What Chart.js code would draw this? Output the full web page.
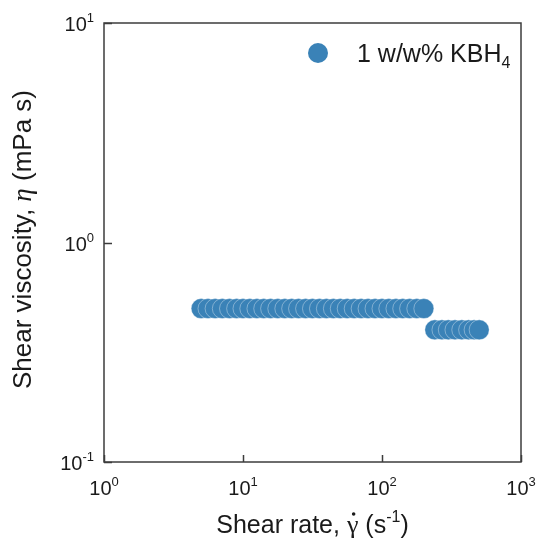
<!DOCTYPE html>
<html>
<head>
<meta charset="utf-8">
<script src="https://cdn.jsdelivr.net/npm/chart.js@4/dist/chart.umd.min.js"></script>
<style>
  html, body { margin: 0; padding: 0; background: #fff; }
  #caja { width: 539px; height: 540px; }
</style>
</head>
<body>
<div id="caja"><canvas id="grafico" width="539" height="540"></canvas></div>
<script>
"use strict";
/* viscosidad vs velocidad de corte - escala log-log */

var shearRate = [5.0, 5.6, 6.3, 7.1, 8.0, 9.0, 10, 11.2, 12.6, 14.1, 15.8, 17.8, 20, 22.4, 25.1, 28.2,
  31.6, 35.5, 39.8, 44.7, 50.1, 56.2, 63.1, 70.8, 79.4, 89.1, 100, 112, 126, 141, 158, 178, 200,
  240, 270, 300, 335, 375, 420, 460, 500];
var viscosity = [0.5, 0.5, 0.5, 0.5, 0.5, 0.5, 0.5, 0.5, 0.5, 0.5, 0.5, 0.5, 0.5, 0.5, 0.5, 0.5,
  0.5, 0.5, 0.5, 0.5, 0.5, 0.5, 0.5, 0.5, 0.5, 0.5, 0.5, 0.5, 0.5, 0.5, 0.5, 0.5, 0.5,
  0.4, 0.4, 0.4, 0.4, 0.4, 0.4, 0.4, 0.4];
var xTicks = [1, 10, 100, 1000];
var xTickExp = ["0", "1", "2", "3"];
var yTicks = [0.1, 1, 10];
var yTickExp = ["-1", "0", "1"];
var serieLabel = "1 w/w% KBH";

(function () {

  var azul = "#3a82b7";
  var tinta = "#1a1a1a";
  var sans = "'Liberation Sans', Arial, sans-serif";
  var serif = "'Liberation Serif', 'Times New Roman', serif";

  // texto con partes (superindice, subindice, cursiva)
  function textoRico(ctx, partes, x, y, align) {
    var total = 0;
    partes.forEach(function (p) {
      ctx.font = p.font;
      p.w = ctx.measureText(p.t).width;
      total += p.w;
    });
    var cx = x;
    if (align === "center") { cx = x - total / 2; }
    else if (align === "right") { cx = x - total; }
    partes.forEach(function (p) {
      ctx.font = p.font;
      ctx.fillText(p.t, cx, y + (p.dy || 0));
      if (p.punto) {
        ctx.beginPath();
        ctx.arc(cx + p.w / 2 + 1, y - 19, 1.8, 0, Math.PI * 2);
        ctx.fill();
      }
      cx += p.w;
    });
  }

  var dibujoExtra = {
    id: "dibujoExtra",
    afterDraw: function (chart) {
      var ctx = chart.ctx;
      var a = chart.chartArea;
      var sx = chart.scales.x;
      var sy = chart.scales.y;
      ctx.save();

      // marco
      ctx.strokeStyle = "#3c3c3c";
      ctx.lineWidth = 1.5;
      ctx.strokeRect(a.left, a.top, a.right - a.left, a.bottom - a.top);

      // marcas hacia adentro
      ctx.beginPath();
      xTicks.forEach(function (v) {
        var px = Math.round(sx.getPixelForValue(v)) + 0.5;
        ctx.moveTo(px, a.bottom);
        ctx.lineTo(px, a.bottom - 7);
      });
      yTicks.forEach(function (v) {
        var py = Math.round(sy.getPixelForValue(v)) + 0.5;
        ctx.moveTo(a.left, py);
        ctx.lineTo(a.left + 8, py);
      });
      ctx.stroke();

      ctx.fillStyle = tinta;
      ctx.textBaseline = "alphabetic";
      ctx.textAlign = "left";

      // etiquetas eje x
      xTicks.forEach(function (v, i) {
        var px = sx.getPixelForValue(v);
        textoRico(ctx, [
          { t: "10", font: "20px " + sans },
          { t: xTickExp[i], font: "13px " + sans, dy: -9 }
        ], px, 495, "center");
      });

      // etiquetas eje y
      yTicks.forEach(function (v, i) {
        var py = sy.getPixelForValue(v);
        textoRico(ctx, [
          { t: "10", font: "20px " + sans },
          { t: yTickExp[i], font: "13px " + sans, dy: -9 }
        ], a.left - 10, py + 8, "right");
      });

      // titulo eje x
      textoRico(ctx, [
        { t: "Shear rate, ", font: "25px " + sans },
        { t: "\u03b3", font: "26px " + serif, punto: true },
        { t: " (s", font: "25px " + sans },
        { t: "-1", font: "16px " + sans, dy: -11 },
        { t: ")", font: "25px " + sans }
      ], (a.left + a.right) / 2, 533, "center");

      // titulo eje y
      ctx.save();
      ctx.translate(31, (a.top + a.bottom) / 2 - 3);
      ctx.rotate(-Math.PI / 2);
      textoRico(ctx, [
        { t: "Shear viscosity, ", font: "26px " + sans },
        { t: "\u03b7", font: "italic 27px " + serif },
        { t: " (mPa s)", font: "26px " + sans }
      ], 0, 0, "center");
      ctx.restore();

      // leyenda
      ctx.fillStyle = azul;
      ctx.beginPath();
      ctx.arc(318, 53, 10, 0, Math.PI * 2);
      ctx.fill();
      ctx.fillStyle = tinta;
      textoRico(ctx, [
        { t: serieLabel, font: "25px " + sans },
        { t: "4", font: "16px " + sans, dy: 6 }
      ], 357, 62, "left");

      ctx.restore();
    }
  };

  var puntos = shearRate.map(function (x, i) {
    return { x: x, y: viscosity[i] };
  });

  var ctx = document.getElementById("grafico").getContext("2d");
  new Chart(ctx, {
    type: "scatter",
    data: {
      datasets: [{
        label: serieLabel + "4",
        data: puntos,
        backgroundColor: azul,
        borderColor: "rgba(255,255,255,0.45)",
        borderWidth: 0.8,
        pointRadius: 10,
        pointHoverRadius: 10
      }]
    },
    options: {
      responsive: false,
      animation: false,
      layout: { padding: { left: 104, top: 23, right: 18, bottom: 78 } },
      plugins: { legend: { display: false }, tooltip: { enabled: false } },
      scales: {
        x: {
          type: "logarithmic", min: 1, max: 1000,
          ticks: { display: false },
          grid: { display: false },
          border: { display: false },
          afterFit: function (s) { s.height = 0; }
        },
        y: {
          type: "logarithmic", min: 0.1, max: 10,
          ticks: { display: false },
          grid: { display: false },
          border: { display: false },
          afterFit: function (s) { s.width = 0; }
        }
      }
    },
    plugins: [dibujoExtra]
  });

})();
</script>
</body>
</html>
